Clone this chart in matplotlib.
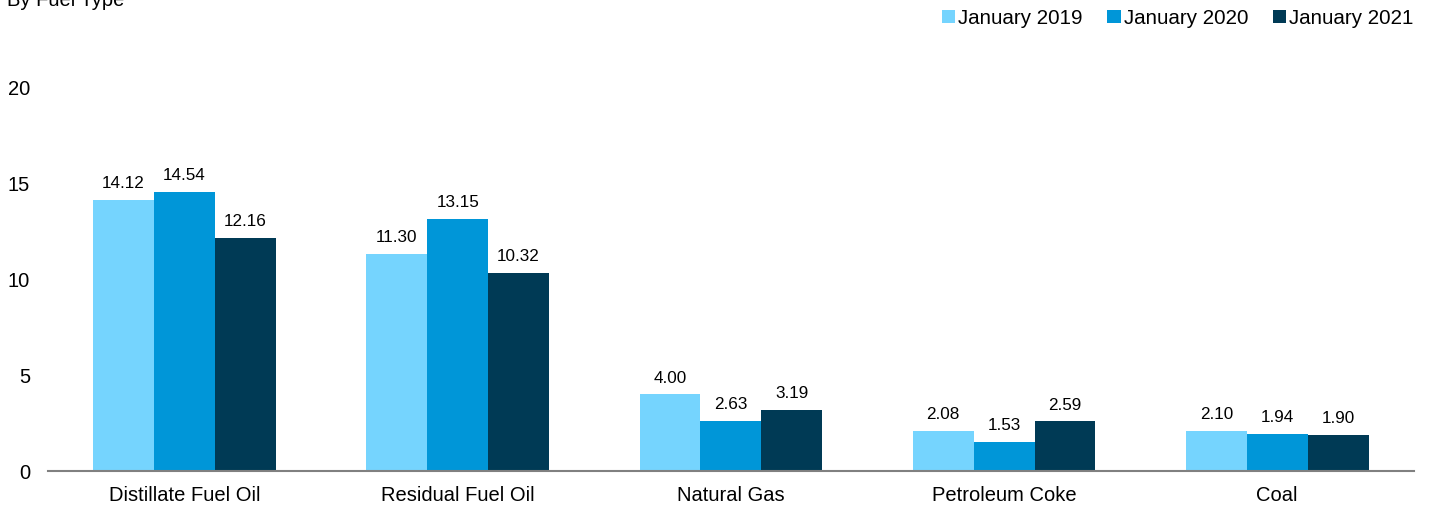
import matplotlib
matplotlib.use("Agg")
import matplotlib.pyplot as plt
import numpy as np

plt.rcParams['font.family'] = ['Liberation Sans', 'DejaVu Sans']

categories = ["Distillate Fuel Oil", "Residual Fuel Oil", "Natural Gas", "Petroleum Coke", "Coal"]
series_names = ["January 2019", "January 2020", "January 2021"]
jan2019 = [14.12, 11.30, 4.00, 2.08, 2.10]
jan2020 = [14.54, 13.15, 2.63, 1.53, 1.94]
jan2021 = [12.16, 10.32, 3.19, 2.59, 1.90]
colors = ["#75D4FE", "#0096D8", "#003A55"]

fig = plt.figure(figsize=(14.31, 5.08), dpi=100)
ax = fig.add_axes([0.0335, 0.0728, 0.9545, 0.7559])

x = np.arange(len(categories))
w = 0.223
for i, (vals, name) in enumerate(zip([jan2019, jan2020, jan2021], series_names)):
    pos = x + (i - 1) * w
    ax.bar(pos, vals, width=w, color=colors[i], label=name)
    for p, v in zip(pos, vals):
        ax.text(p, v + 0.45, f"{v:.2f}", ha='center', va='bottom', fontsize=12.3)

ax.set_xlim(-0.5, 4.5)
ax.set_ylim(0, 20)
ax.set_yticks([0, 5, 10, 15, 20])
ax.set_xticks(x)
ax.set_xticklabels(categories, fontsize=14.5)
ax.tick_params(axis='y', labelsize=14.5, length=0, pad=13)
ax.tick_params(axis='x', length=0, pad=11)
for s in ['top', 'right', 'left']:
    ax.spines[s].set_visible(False)
ax.spines['bottom'].set_color('#808080')
ax.spines['bottom'].set_linewidth(1.5)

fig.text(0.005, 1.0, "By Fuel Type", fontsize=14.5, va='center', ha='left')

ax.legend(loc='upper right', bbox_to_anchor=(1.006, 1.225), ncol=3, frameon=False,
          fontsize=14.8, handlelength=0.65, handleheight=0.65, handletextpad=0.15,
          columnspacing=1.2, borderaxespad=0)

fig.savefig("out.png", dpi=100)
